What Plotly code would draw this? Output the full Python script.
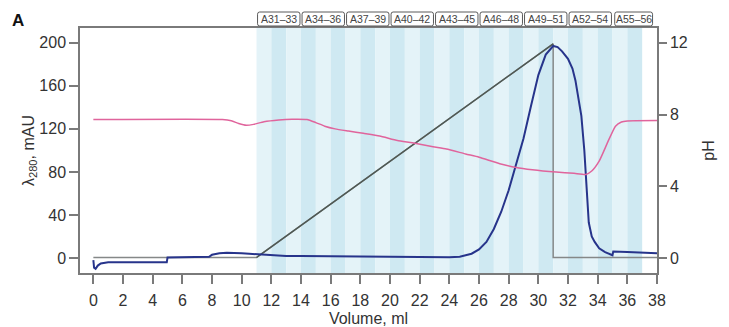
import plotly.graph_objects as go

# Elution volume (ml) and absorbance at 280 nm (mAU)
uv_ml = [0.0, 0.05, 0.15, 0.3, 0.5, 1.0, 2.0, 3.0, 4.0, 4.95, 5.0, 6.0, 7.0, 7.8,
         8.0, 8.5, 9.0, 9.5, 10.0, 10.5, 11.0, 12.0, 13.0, 14.0, 16.0, 18.0, 20.0,
         22.0, 24.0, 24.7, 25.0, 25.5, 26.0, 26.5, 27.0, 27.5, 28.0, 28.5, 29.0,
         29.5, 30.0, 30.5, 31.0, 31.3, 31.6, 32.0, 32.3, 32.5, 32.7, 32.9, 33.1,
         33.2, 33.3, 33.4, 33.6, 33.8, 34.1, 34.5, 35.0, 35.05, 36.0, 37.0, 38.0]
uv_mau = [-2, -9, -10, -7, -5, -4, -4, -4, -4, -4, 0.5, 0.8, 1.0, 1.2,
          3.0, 4.5, 5.0, 5.0, 4.5, 4.0, 3.5, 2.5, 2.0, 1.8, 1.5, 1.2, 1.0,
          0.8, 0.8, 1.2, 2.0, 4.0, 8.0, 15, 27, 43, 63, 86, 111,
          141, 170, 189, 197, 196, 192, 185, 176, 165, 150, 132, 100,
          78, 55, 33, 20, 15, 9, 5.5, 2.6, 6.0, 5.5, 5.0, 4.5]

# pH trace (right axis)
ph_ml = [0.0, 8.7, 9.3, 9.8, 10.3, 10.8, 11.5, 12.5, 13.4, 14.4, 15.0, 15.6, 16.3,
         17.2, 18.2, 19.3, 20.5, 21.5, 22.9, 23.8, 25.1, 26.0, 27.4, 28.5, 29.6,
         31.2, 32.4, 33.2, 33.6, 34.1, 34.7, 35.2, 35.6, 36.0, 38.0]
ph_val = [7.72, 7.72, 7.65, 7.5, 7.4, 7.45, 7.6, 7.7, 7.74, 7.72, 7.55, 7.35, 7.2,
          7.08, 6.95, 6.8, 6.55, 6.42, 6.2, 6.08, 5.8, 5.62, 5.26, 5.05, 4.92,
          4.79, 4.72, 4.66, 4.85, 5.4, 6.5, 7.35, 7.58, 7.64, 7.66]

# Elution programme (drawn on the mAU scale)
grad_ml = [0.0, 11.0, 31.0, 31.0, 38.0]
grad_level = [0.5, 0.5, 199.0, 0.5, 0.5]

# Collected fractions
frac_first_ml = 11
frac_count = 26
frac_labels = ["A31–33", "A34–36", "A37–39", "A40–42", "A43–45",
               "A46–48", "A49–51", "A52–54", "A55–56"]
frac_label_start = [11, 14, 17, 20, 23, 26, 29, 32, 35]
frac_label_end = [14, 17, 20, 23, 26, 29, 32, 35, 37]

x_ticks = list(range(0, 39, 2))
mau_ticks = [0, 40, 80, 120, 160, 200]
ph_ticks = [0, 4, 8, 12]

MAU_RANGE = [-13.9, 213.7]
PH_PER_MAU = 0.06
AXIS = "#7a7a7a"
FONT = "Liberation Sans, Arial, sans-serif"

fig = go.Figure()

# fraction stripes
shapes = []
for i in range(frac_count):
    x0 = frac_first_ml + i
    shapes.append(dict(type="rect", xref="x", yref="paper", x0=x0, x1=x0 + 1,
                       y0=0, y1=1, layer="below", line_width=0,
                       fillcolor="#e4f3f8" if i % 2 == 0 else "#cfe9f2"))

# rounded label boxes above the stripes; the last, shorter group gets a
# slightly widened box so its label fits
rx, ry = 0.14, 0.009
yb, yt = 1.0082, 1.0653
annotations = []
for k, (lab, a, b) in enumerate(zip(frac_labels, frac_label_start, frac_label_end)):
    x0, x1 = a + 0.07, b - 0.07
    if k == len(frac_labels) - 1:
        x0, x1 = a + 0.15, b + 0.7
    path = (f"M{x0 + rx},{yb} L{x1 - rx},{yb} Q{x1},{yb} {x1},{yb + ry} "
            f"L{x1},{yt - ry} Q{x1},{yt} {x1 - rx},{yt} L{x0 + rx},{yt} "
            f"Q{x0},{yt} {x0},{yt - ry} L{x0},{yb + ry} Q{x0},{yb} {x0 + rx},{yb} Z")
    shapes.append(dict(type="path", xref="x", yref="paper", path=path,
                       fillcolor="white", line=dict(color="#5a5a5a", width=1)))
    annotations.append(dict(x=(x0 + x1) / 2, y=(yb + yt) / 2, xref="x", yref="paper",
                            xanchor="center", yanchor="middle",
                            text=lab, showarrow=False,
                            font=dict(family=FONT, size=10.5, color="#444")))

# panel letter
annotations.append(dict(x=-0.108, y=1.03, xref="paper", yref="paper",
                        xanchor="center", yanchor="middle",
                        text="<b>A</b>", showarrow=False,
                        font=dict(family=FONT, size=17, color="#111")))

fig.add_trace(go.Scatter(x=grad_ml, y=grad_level, mode="lines",
                         line=dict(color="#858888", width=1.5), hoverinfo="skip"))
fig.add_trace(go.Scatter(x=grad_ml[1:3], y=grad_level[1:3], mode="lines",
                         line=dict(color="#4e5853", width=1.5), hoverinfo="skip"))
fig.add_trace(go.Scatter(x=ph_ml, y=ph_val, mode="lines", yaxis="y2",
                         line=dict(color="#e0649c", width=1.5, shape="spline",
                                   smoothing=0.5)))
fig.add_trace(go.Scatter(x=uv_ml, y=uv_mau, mode="lines",
                         line=dict(color="#27348b", width=2)))

fig.update_layout(
    width=729, height=327,
    margin=dict(l=80, r=72, t=28, b=54),
    paper_bgcolor="white", plot_bgcolor="white",
    showlegend=False,
    font=dict(family=FONT, size=16, color="#333"),
    shapes=shapes, annotations=annotations,
    xaxis=dict(range=[-0.9, 38], tickvals=x_ticks, showgrid=False, zeroline=False,
               showline=True, mirror=True, linecolor=AXIS, linewidth=1.5,
               ticks="outside", ticklen=9, tickwidth=1.5, tickcolor=AXIS,
               ticklabelstandoff=3, automargin=False,
               title=dict(text="Volume, ml", standoff=8,
                          font=dict(family=FONT, size=16, color="#333"))),
    yaxis=dict(range=MAU_RANGE, tickvals=mau_ticks, showgrid=False, zeroline=False,
               showline=True, linecolor=AXIS, linewidth=1.5,
               ticks="outside", ticklen=9, tickwidth=1.5, tickcolor=AXIS,
               automargin=False,
               title=dict(text="λ<sub>280</sub>, mAU", standoff=0,
                          font=dict(family=FONT, size=16, color="#333"))),
    yaxis2=dict(range=[v * PH_PER_MAU for v in MAU_RANGE], tickvals=ph_ticks,
                overlaying="y", side="right", showgrid=False, zeroline=False,
                showline=True, linecolor=AXIS, linewidth=1.5,
                ticks="outside", ticklen=8, tickwidth=1.5, tickcolor=AXIS,
                automargin=False,
                title=dict(text="pH", standoff=16,
                           font=dict(family=FONT, size=16, color="#333"))),
)

fig.write_html("out.html")
